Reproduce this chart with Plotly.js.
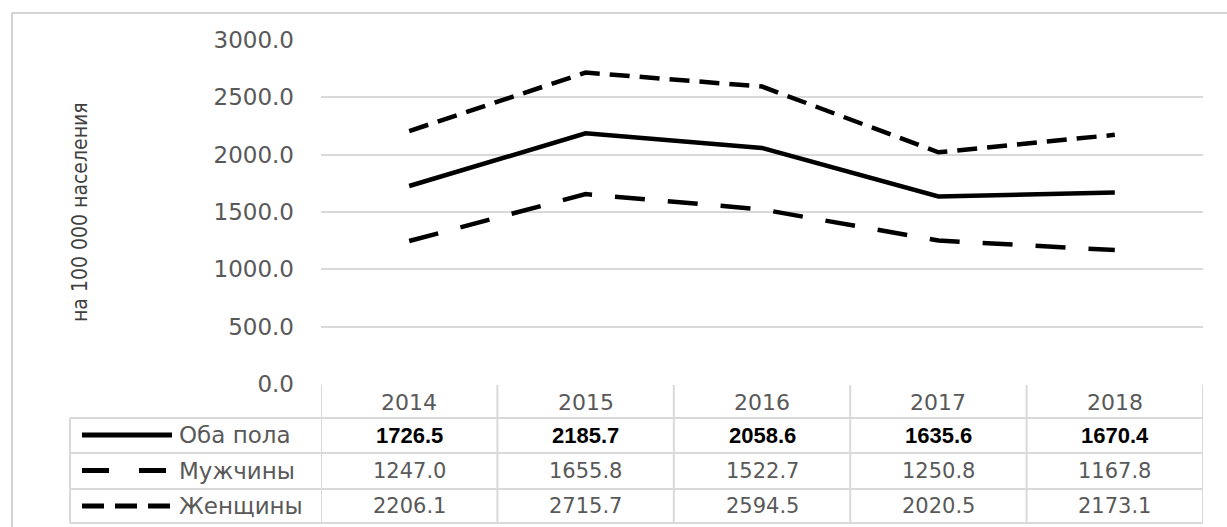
<!DOCTYPE html>
<html>
<head>
<meta charset="utf-8">
<script src="https://cdn.plot.ly/plotly-3.0.1.min.js"></script>
<style>
  html, body { margin: 0; padding: 0; background: #ffffff; }
  #chart { width: 1227px; height: 527px; }
</style>
</head>
<body>
<div id="chart"></div>
<script>
// Incidence per 100 000 population, 2014–2018
const years = ['2014', '2015', '2016', '2017', '2018'];
const seriesNames = ['Оба пола', 'Мужчины', 'Женщины'];
const bothSexes = [1726.5, 2185.7, 2058.6, 1635.6, 1670.4];
const men = [1247.0, 1655.8, 1522.7, 1250.8, 1167.8];
const women = [2206.1, 2715.7, 2594.5, 2020.5, 2173.1];
const yAxisTitle = 'на 100 000 населения';

const seriesValues = [bothSexes, men, women];

// Page geometry (pixels) of the plotting area and the data table beneath it
const W = 1227, H = 527;
const L = 321, R = 1203, T = 40, B = 384;
const px = x => (x - L) / (R - L);
const py = y => (B - y) / (B - T);

const GRID = '#d9d9d9';
const TEXT = '#595959';
const NUM_FONT = 'DejaVu Sans, Verdana, sans-serif';
const BOLD_FONT = 'Liberation Sans, Arial, sans-serif';

const lineDash = ['solid', '30px,23px', '20px,10px'];
const keyDash = ['solid', '27px,30px', '22px,11px'];

const traces = seriesNames.map((name, i) => ({
  type: 'scatter',
  mode: 'lines',
  name: name,
  x: years,
  y: seriesValues[i],
  line: { color: '#000000', width: 4.5, dash: lineDash[i] },
  hoverinfo: 'x+y+name'
}));

// Table rows: header, then one row per series
const headerTop = 385, rowEdges = [418, 453, 489, 523];
const headerCenter = 402;
const rowCenters = [435, 470.5, 506];
const legendLeft = 70;

const shapes = [];
const lineStyle = { color: GRID, width: 2 };

// outer chart frame
shapes.push({ type: 'rect', xref: 'paper', yref: 'paper',
  x0: px(12), x1: px(1240), y0: py(13), y1: py(540),
  line: { color: '#d4d4d4', width: 2 }, fillcolor: 'rgba(0,0,0,0)', layer: 'below' });

// vertical column borders
for (let i = 0; i <= years.length; i++) {
  shapes.push({ type: 'line', xref: 'x', yref: 'paper',
    x0: i - 0.5, x1: i - 0.5, y0: py(headerTop), y1: py(rowEdges[3]), line: lineStyle });
}
// left border of the legend column
shapes.push({ type: 'line', xref: 'paper', yref: 'paper',
  x0: px(legendLeft), x1: px(legendLeft), y0: py(rowEdges[0]), y1: py(rowEdges[3]), line: lineStyle });
// horizontal row borders
rowEdges.forEach(y => {
  shapes.push({ type: 'line', xref: 'paper', yref: 'paper',
    x0: px(legendLeft), x1: px(R), y0: py(y), y1: py(y), line: lineStyle });
});
// legend keys inside the table
seriesNames.forEach((name, i) => {
  shapes.push({ type: 'line', xref: 'paper', yref: 'paper',
    x0: px(82), x1: px(172), y0: py(rowCenters[i]), y1: py(rowCenters[i]),
    line: { color: '#000000', width: 5, dash: keyDash[i] } });
});

const annotations = [];
// y axis title
annotations.push({ xref: 'paper', yref: 'paper', x: px(80), y: 0.5,
  xanchor: 'center', yanchor: 'middle',
  text: yAxisTitle, showarrow: false, textangle: -90,
  font: { family: 'DejaVu Sans Condensed, DejaVu Sans, sans-serif', size: 21, color: '#404040' } });
// year header (category positions 0..4)
years.forEach((yr, j) => {
  annotations.push({ xref: 'x', yref: 'paper', x: j, y: py(headerCenter),
    xanchor: 'center', yanchor: 'middle',
    text: yr, showarrow: false, font: { family: NUM_FONT, size: 22, color: TEXT } });
});
// row labels and values
seriesNames.forEach((name, i) => {
  annotations.push({ xref: 'paper', yref: 'paper', x: px(177), y: py(rowCenters[i]),
    xanchor: 'left', yanchor: 'middle', text: name, showarrow: false,
    font: { family: NUM_FONT, size: 23, color: TEXT } });
  seriesValues[i].forEach((v, j) => {
    annotations.push({ xref: 'x', yref: 'paper', x: j, y: py(rowCenters[i]),
      xanchor: 'center', yanchor: 'middle',
      text: v.toFixed(1), showarrow: false,
      font: i === 0
        ? { family: BOLD_FONT, size: 22, color: '#000000', weight: 'bold' }
        : { family: NUM_FONT, size: 21, color: TEXT } });
  });
});

const layout = {
  width: W, height: H,
  margin: { l: L, r: W - R, t: T, b: H - B, pad: 0 },
  paper_bgcolor: '#ffffff',
  plot_bgcolor: '#ffffff',
  showlegend: false,
  xaxis: {
    type: 'category',
    range: [-0.5, years.length - 0.5],
    showgrid: false, zeroline: false, showline: false,
    showticklabels: false, ticks: ''
  },
  yaxis: {
    range: [0, 3000],
    dtick: 500,
    tickformat: '.1f',
    showgrid: true, gridcolor: GRID, gridwidth: 2,
    zeroline: false, showline: false, ticks: '',
    ticklabelstandoff: 26,
    tickfont: { family: NUM_FONT, size: 23, color: TEXT }
  },
  shapes: shapes,
  annotations: annotations
};

Plotly.newPlot('chart', traces, layout, { displayModeBar: false, staticPlot: true });
</script>
</body>
</html>
